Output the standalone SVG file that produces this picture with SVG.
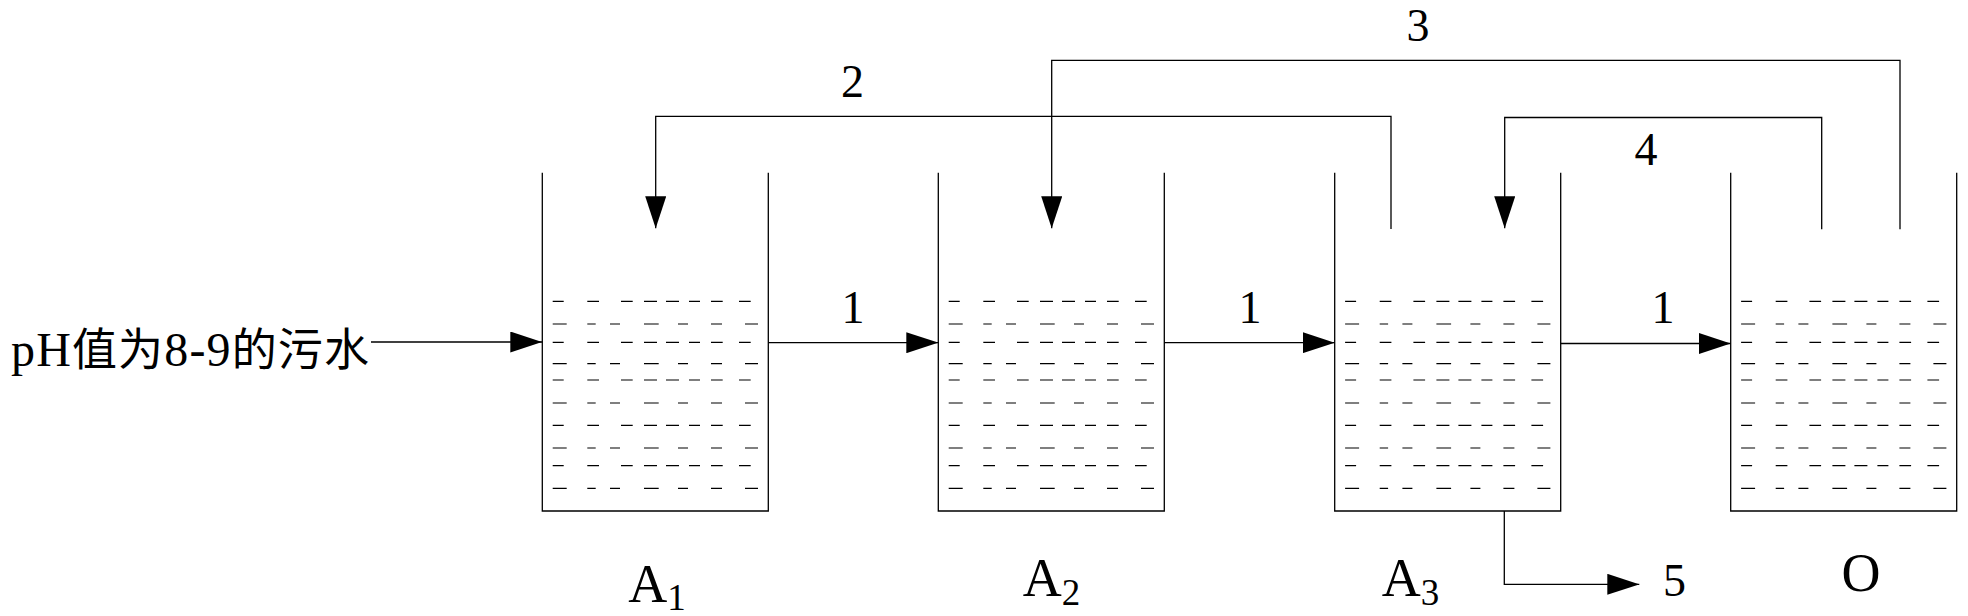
<svg xmlns="http://www.w3.org/2000/svg" xmlns:xlink="http://www.w3.org/1999/xlink" width="1968" height="616" viewBox="0 0 1968 616">
<style>
.ln{fill:none;stroke:#000;stroke-width:1.3}
.ds{fill:none;stroke:#000;stroke-width:1.2}
.tx{font-family:"Liberation Serif","Times New Roman","Noto Sans CJK SC",serif;fill:#000}
.lat{font-family:"Liberation Serif","Times New Roman",serif;font-size:48px}
.cjk{font-family:"Noto Sans CJK SC","Noto Sans CJK TC",sans-serif;font-size:45px}
.num{font-size:46px;text-anchor:middle}
.lab{font-size:54px}
</style>
<defs>
<marker id="ah" viewBox="0 0 32 21" refX="32" refY="10.5" markerWidth="32" markerHeight="21" markerUnits="userSpaceOnUse" orient="auto">
<path d="M0,0 L32,10.5 L0,21 Z" fill="#000"/>
</marker>
<path id="rowA" class="ds" d="M10.4,0H21.4M45,0H56.7M78.7,0H90.4M101.7,0H114.7M123.7,0H136.7M146.7,0H157.7M168.7,0H180.4M196.7,0H208.4"/>
<path id="rowB" class="ds" d="M10.4,0H24.4M45,0H53.4M67.7,0H77.7M101.7,0H116.4M135.7,0H145.7M168.7,0H179.7M202.7,0H215.7"/>
<g id="tank">
<path class="ln" d="M0,172.7V511H226V172.7"/>
<use href="#rowA" y="301.3"/>
<use href="#rowB" y="324"/>
<use href="#rowA" y="342.3"/>
<use href="#rowB" y="363.7"/>
<use href="#rowA" y="380"/>
<use href="#rowB" y="403"/>
<use href="#rowA" y="425.3"/>
<use href="#rowB" y="448"/>
<use href="#rowA" y="465.7"/>
<use href="#rowB" y="488.3"/>
</g>
</defs>
<rect width="1968" height="616" fill="#fff"/>
<g id="node-inlet">
<text x="11" y="366" textLength="358" lengthAdjust="spacing"><tspan class="lat">pH</tspan><tspan class="cjk">值为</tspan><tspan class="lat">8-9</tspan><tspan class="cjk">的污水</tspan></text>
</g>
<g id="node-A1">
<use href="#tank" x="542.3"/>
<text class="tx lab" x="628.3" y="601.7">A<tspan font-size="37" dy="8">1</tspan></text>
</g>
<g id="node-A2">
<use href="#tank" x="938.3"/>
<text class="tx lab" x="1022.7" y="596">A<tspan font-size="37" dy="9">2</tspan></text>
</g>
<g id="node-A3">
<use href="#tank" x="1334.7"/>
<text class="tx lab" x="1381.7" y="596">A<tspan font-size="37" dy="9">3</tspan></text>
</g>
<g id="node-O">
<use href="#tank" x="1730.7"/>
<text class="tx lab" x="1841.5" y="590.5">O</text>
</g>
<g id="connectors">
<path class="ln" marker-end="url(#ah)" d="M371,342H542.3"/>
<path class="ln" marker-end="url(#ah)" d="M768.3,342.7H938.3"/>
<path class="ln" marker-end="url(#ah)" d="M1164.3,342.7H1334.7"/>
<path class="ln" marker-end="url(#ah)" d="M1560.7,343.5H1730.7"/>
<path class="ln" marker-end="url(#ah)" d="M1391,229V116.3H655.7V228.3"/>
<path class="ln" marker-end="url(#ah)" d="M1900,229.3V60.3H1051.7V228.3"/>
<path class="ln" marker-end="url(#ah)" d="M1821.7,229.3V117.5H1504.7V228.3"/>
<path class="ln" marker-end="url(#ah)" d="M1504.3,511V584.3H1639.3"/>
<text class="tx num" x="853" y="322.7">1</text>
<text class="tx num" x="1250" y="322.7">1</text>
<text class="tx num" x="1663" y="322.7">1</text>
<text class="tx num" x="852.5" y="97.3">2</text>
<text class="tx num" x="1418" y="40.7">3</text>
<text class="tx num" x="1646" y="165">4</text>
<text class="tx" font-size="46" x="1663" y="596">5</text>
</g>
</svg>
